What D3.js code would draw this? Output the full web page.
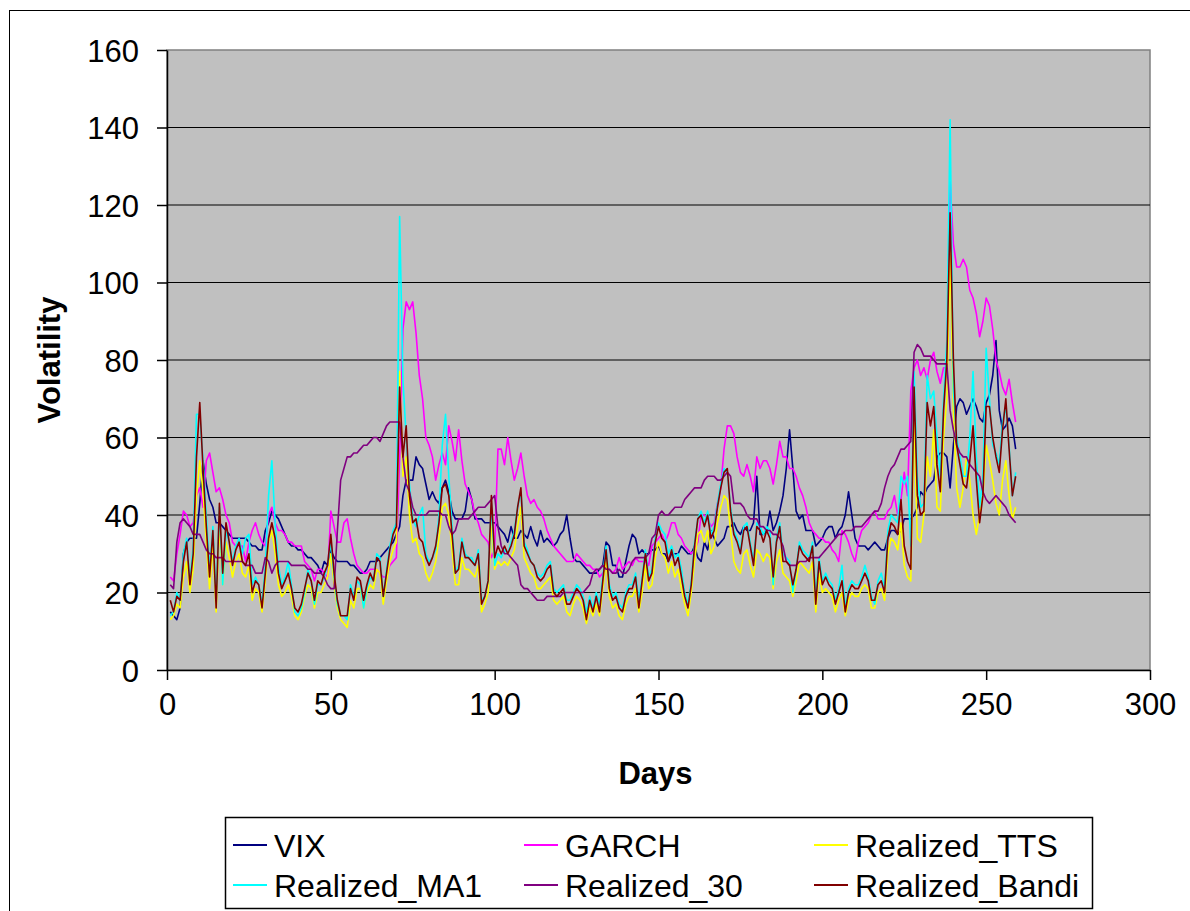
<!DOCTYPE html>
<html>
<head>
<meta charset="utf-8">
<script src="https://cdn.jsdelivr.net/npm/d3@7"></script>
<style>
  body { margin: 0; background: #fff; }
  svg { display: block; font-family: "Liberation Sans", Arial, sans-serif; }
</style>
</head>
<body>
<div id="chart"></div>
<script>
// values, day 1 .. 259
var vix = [
  15,14,13,16,30,33,34,34,34,43, 54,48,44,42,38,38,37,36,35,34,
  34,34,34,34,33,32,32,31,31,36, 38,41,40,39,37,35,33,32,32,31,
  31,30,29,29,28,27,25,28,27,31, 29,28,28,28,28,27,27,26,25,25,
  26,28,28,28,29,30,31,32,33,35, 37,45,49,49,49,55,53,52,48,44,
  46,44,43,47,49,46,41,39,39,39, 41,47,44,39,39,39,38,38,38,38,
  37,36,35,33,37,34,34,36,35,34, 37,34,32,36,33,34,33,32,33,35,
  36,40,34,29,28,28,27,26,25,25, 25,26,27,33,32,27,27,24,24,28,
  32,35,34,30,31,30,30,31,31,32, 30,30,28,30,30,30,32,31,30,30,
  32,29,28,33,31,36,34,32,33,34, 37,37,38,36,35,37,36,36,38,50,
  35,35,36,41,36,38,41,45,52,62, 52,41,39,40,36,36,36,32,33,34,
  36,37,37,34,36,37,40,46,40,34, 32,32,32,31,32,33,32,31,31,34,
  36,36,35,36,39,39,39,40,42,46, 45,47,48,49,55,56,56,55,47,58,
  68,70,69,66,68,70,68,65,64,69, 71,76,85,67,62,63,65,63,57
];
var garch = [
  24,23,30,35,41,40,37,38,45,47, 42,54,56,51,46,47,44,40,38,33,
  32,32,32,28,33,36,38,35,33,32, 40,42,38,36,36,35,33,33,32,32,
  32,28,27,26,23,26,26,25,24,41, 37,33,33,38,39,34,30,27,26,25,
  25,26,26,26,25,24,24,27,28,29, 55,88,95,93,95,87,76,70,60,58,
  55,49,53,56,53,63,59,54,62,54, 48,46,44,40,38,35,34,33,29,31,
  57,57,53,60,54,49,52,56,50,45, 43,44,42,41,39,36,34,32,31,30,
  29,28,28,28,30,29,28,27,27,26, 26,24,25,26,26,25,26,29,26,27,
  28,27,29,28,28,28,27,32,33,34, 35,33,35,38,38,35,34,32,31,30,
  31,33,40,40,39,37,38,43,47,57, 63,63,61,55,51,50,53,50,46,55,
  52,54,54,52,48,53,59,55,55,52, 52,50,47,45,42,38,36,35,34,34,
  33,33,31,30,28,36,35,33,30,28, 33,36,37,38,40,41,39,39,39,41,
  42,45,40,44,51,45,72,78,80,76, 78,75,80,82,77,74,78,78,126,110,
  104,104,106,104,98,96,92,86,90,96, 94,88,80,77,73,71,75,69,64
];
var realizedTTS = [
  13,14,17,16,24,28,20,26,45,54, 46,33,21,32,15,38,22,33,29,24,
  28,30,25,24,27,18,21,20,15,23, 33,36,30,22,19,20,22,19,14,13,
  15,19,22,21,16,20,20,22,24,30, 22,16,13,12,11,18,16,21,21,16,
  20,22,21,26,25,17,23,28,31,33, 77,50,55,40,33,34,30,29,25,23,
  25,28,34,42,43,40,31,22,22,29, 26,26,25,24,27,15,17,20,38,26,
  28,27,28,27,29,31,37,42,29,27, 25,24,21,21,22,23,24,18,17,18,
  19,15,14,17,19,18,16,12,16,14, 17,14,21,28,19,16,17,14,13,17,
  19,19,21,15,20,27,21,22,29,33, 30,29,25,28,24,26,21,17,14,20,
  28,35,36,33,36,30,32,38,42,45, 44,36,28,26,25,30,31,27,24,31,
  30,28,30,29,21,28,31,25,24,23, 19,23,28,27,26,25,28,15,25,20,
  21,20,19,15,18,20,14,18,20,19, 19,21,22,21,16,16,20,21,18,30,
  34,33,31,38,27,24,23,64,34,33, 40,55,50,62,42,41,60,70,108,67,
  47,42,47,55,49,40,35,40,45,58, 54,49,43,40,49,54,45,39,42
];
var realizedMA1 = [
  14,15,20,18,30,34,23,32,66,66, 54,40,26,37,18,42,22,36,33,28,
  32,34,30,34,35,22,24,22,17,27, 45,54,38,27,22,24,28,22,15,14,
  16,20,26,23,17,22,22,24,27,33, 24,17,14,14,13,22,19,23,22,16,
  21,24,23,30,29,19,26,32,36,38, 117,75,60,48,39,37,40,42,30,28,
  29,31,40,58,66,50,37,25,27,34, 30,29,29,27,31,18,19,23,43,27,
  30,29,31,30,33,36,42,46,33,31, 28,27,25,24,25,27,28,21,20,21,
  22,18,18,20,22,21,19,15,19,16, 20,17,24,32,22,19,20,17,16,20,
  22,22,25,18,24,31,24,26,34,38, 36,35,30,32,29,30,26,20,17,23,
  33,39,41,38,41,35,37,43,48,52, 51,42,36,34,31,37,38,33,28,38,
  37,35,37,36,22,34,38,30,29,28, 20,26,33,31,30,29,33,19,29,23,
  25,23,22,18,21,27,16,21,23,22, 22,24,27,24,19,17,23,25,21,36,
  40,39,38,50,48,50,32,77,50,42, 43,76,70,72,60,50,70,85,142,72,
  60,55,50,50,60,77,55,42,50,83, 70,58,56,53,64,68,58,45,51
];
var realized30 = [
  22,21,33,38,39,38,37,35,35,35, 33,31,30,30,29,29,29,28,28,28,
  28,28,28,27,27,27,25,25,25,29, 28,25,27,28,28,28,28,27,27,27,
  27,27,26,26,25,25,25,24,22,21, 21,36,49,52,55,55,56,56,57,58,
  58,59,60,60,59,61,63,64,64,64, 64,55,48,46,42,40,40,40,40,41,
  41,41,41,40,40,37,35,36,39,39, 39,39,40,41,42,42,42,43,44,45,
  37,32,30,30,29,28,27,22,21,21, 20,19,18,18,18,19,19,19,19,19,
  20,20,20,20,20,20,20,21,22,25, 26,26,27,26,26,25,25,26,25,25,
  26,28,29,29,29,29,30,34,35,40, 41,40,40,41,42,42,42,44,45,46,
  47,47,47,49,50,50,50,49,49,50, 51,50,43,43,43,42,40,39,39,39,
  37,37,36,36,35,35,34,32,28,27, 27,27,28,28,28,29,29,29,29,30,
  31,32,33,34,35,35,36,36,36,37, 37,37,38,39,40,41,41,43,47,50,
  52,53,55,57,57,58,59,82,84,83, 81,81,81,80,79,79,79,79,67,62,
  58,56,55,55,53,52,51,50,46,44, 43,44,45,44,43,42,40,39,38
];
var realizedBandi = [
  18,15,19,18,28,33,22,30,55,69, 52,37,24,36,16,43,25,38,33,27,
  31,33,28,27,30,20,23,22,16,25, 34,38,34,25,21,23,25,21,16,15,
  17,21,25,23,18,23,22,25,27,35, 25,18,14,14,14,21,18,24,23,18,
  22,25,23,29,28,19,25,31,35,37, 73,55,63,45,38,39,34,33,29,27,
  29,32,38,47,48,45,35,25,26,33, 29,29,28,27,30,17,19,23,45,29,
  32,30,32,30,32,35,42,47,32,30, 28,27,24,23,24,26,27,20,19,20,
  21,17,17,19,21,20,18,13,18,15, 19,15,23,31,21,18,19,16,15,19,
  21,21,24,16,23,30,23,25,33,37, 34,33,28,31,27,29,24,19,16,22,
  32,39,40,37,40,34,36,42,47,51, 52,41,35,33,30,36,37,32,27,37,
  36,33,36,34,24,33,37,28,28,27, 22,26,32,30,29,28,32,17,28,22,
  24,22,21,17,20,23,15,20,22,21, 21,23,25,23,18,18,22,23,20,34,
  38,37,35,44,32,28,26,73,45,40, 41,69,63,68,53,46,67,80,118,80,
  58,53,48,47,54,63,49,38,45,68, 68,60,55,51,62,70,57,45,50
];

var seriesNames = ["VIX", "GARCH", "Realized_TTS", "Realized_MA1", "Realized_30", "Realized_Bandi"];
var seriesColors = ["#000080", "#FF00FF", "#FFFF00", "#00FFFF", "#800080", "#800000"];
var seriesValues = [vix, garch, realizedTTS, realizedMA1, realized30, realizedBandi];
var xTicks = [0, 50, 100, 150, 200, 250, 300];
var yTicks = [0, 20, 40, 60, 80, 100, 120, 140, 160];

var svgWidth = 1190;
var svgHeight = 911;

var margin = {top: 50, right: 40, bottom: 241, left: 167};
var width = 1150 - margin.left;
var height = 670 - margin.top;

var svg = d3.select("#chart")
    .append("svg")
    .attr("width", svgWidth)
    .attr("height", svgHeight);

// outer chart border
svg.append("rect")
    .attr("x", 9.5).attr("y", 10.5)
    .attr("width", 1300).attr("height", 1000)
    .attr("fill", "#fff")
    .attr("stroke", "#000")
    .attr("stroke-width", 1);

var chartGroup = svg.append("g")
    .attr("transform", `translate(${margin.left}, ${margin.top})`);

var xScale = d3.scaleLinear().domain([0, 300]).range([0, width]);
var yScale = d3.scaleLinear().domain([0, 160]).range([height, 0]);

// plot area
chartGroup.append("rect")
    .attr("width", width)
    .attr("height", height)
    .attr("fill", "#C0C0C0")
    .attr("stroke", "#808080")
    .attr("stroke-width", 1.5);

// gridlines
chartGroup.append("g")
    .selectAll("line")
    .data(yTicks.filter(d => d > 0 && d < 160))
    .enter()
    .append("line")
    .attr("x1", 0).attr("x2", width)
    .attr("y1", d => yScale(d)).attr("y2", d => yScale(d))
    .attr("stroke", "#000")
    .attr("stroke-width", 1);

// axes
var bottomAxis = d3.axisBottom(xScale).tickValues(xTicks).tickSize(10).tickPadding(13).tickSizeOuter(0);
var leftAxis = d3.axisLeft(yScale).tickValues(yTicks).tickSize(10).tickPadding(18).tickSizeOuter(0);

var xAxisG = chartGroup.append("g")
    .attr("transform", `translate(0, ${height})`)
    .call(bottomAxis);

var yAxisG = chartGroup.append("g")
    .call(leftAxis);

[xAxisG, yAxisG].forEach(function(g) {
  g.select(".domain").attr("stroke", "#000").attr("stroke-width", 1.5);
  g.selectAll(".tick line").attr("stroke", "#000").attr("stroke-width", 1.5);
  g.selectAll(".tick text")
      .attr("fill", "#000")
      .style("font-size", "31px")
      .style("font-family", "'Liberation Sans', Arial, sans-serif");
});
yAxisG.selectAll(".tick text").attr("dy", "0.36em");

// lines
var line = d3.line()
    .x((d, i) => xScale(i + 1))
    .y(d => yScale(d));

chartGroup.selectAll(".series")
    .data(seriesValues)
    .enter()
    .append("path")
    .attr("class", "series")
    .attr("d", d => line(d))
    .attr("fill", "none")
    .attr("stroke", (d, i) => seriesColors[i])
    .attr("stroke-width", 1.6)
    .attr("stroke-linejoin", "round");

// axis labels
chartGroup.append("text")
    .attr("transform", "rotate(-90)")
    .attr("x", -height / 2)
    .attr("y", -107)
    .attr("text-anchor", "middle")
    .style("font-size", "31px")
    .style("font-weight", "bold")
    .text("Volatility");

chartGroup.append("text")
    .attr("x", width / 2 - 3)
    .attr("y", height + 114)
    .attr("text-anchor", "middle")
    .style("font-size", "31px")
    .style("font-weight", "bold")
    .text("Days");

// legend
var legend = svg.append("g");
legend.append("rect")
    .attr("x", 225.5).attr("y", 817.5)
    .attr("width", 867).attr("height", 91)
    .attr("fill", "#fff")
    .attr("stroke", "#000")
    .attr("stroke-width", 1.5);

var colX = [233, 524, 814];
var rowY = [845, 885];

var items = legend.selectAll(".item")
    .data(seriesNames)
    .enter()
    .append("g")
    .attr("class", "item")
    .attr("transform", (d, i) => `translate(${colX[i % 3]}, ${rowY[Math.floor(i / 3)]})`);

items.append("line")
    .attr("x1", 0).attr("x2", 34)
    .attr("y1", 0).attr("y2", 0)
    .attr("stroke", (d, i) => seriesColors[i])
    .attr("stroke-width", 2);

items.append("text")
    .attr("x", 41)
    .attr("dy", "0.36em")
    .style("font-size", "32px")
    .text(d => d);
</script>
</body>
</html>
